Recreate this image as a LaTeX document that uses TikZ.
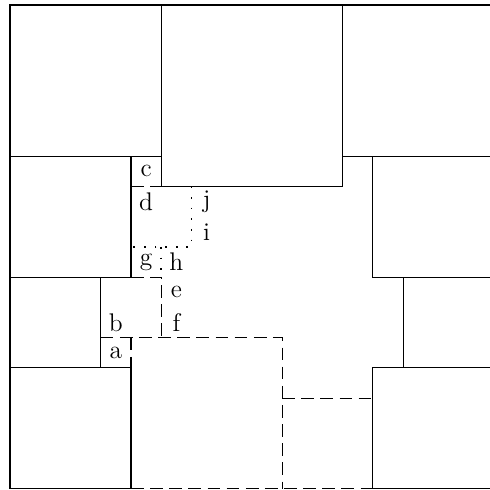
\documentclass[tikz,border=0pt]{standalone}
\tikzset{
  tile/.style={line width=0.5pt, draw=black},
  cutline/.style={tile, dash pattern=on 6pt off 3pt},
  dotline/.style={tile, line width=0.8pt, dash pattern=on 0.8pt off 4.2pt},
  cellname/.style={font=\large, inner sep=0pt}
}
\begin{document}
\begin{tikzpicture}[x=0.05cm,y=0.05cm]
\clip (-3.3,-0.33) rectangle (158.7,161.65);
% big squares round the border
\draw[tile] (0,110) rectangle (50,160);
\draw[tile] (50,100) rectangle (110,160);
\draw[tile] (110,110) rectangle (160,160);
\draw[tile] (0,70) rectangle (40,110);
\draw[tile] (0,40) rectangle (30,70);
\draw[tile] (0,0) -- (40,0) -- (40,40) -- (0,40) -- cycle;
\draw[tile] (40,100) -- (40,110);
\draw[tile] (120,70) rectangle (160,110);
\draw[tile] (130,40) rectangle (160,70);
\draw[tile] (120,0) rectangle (160,40);
% cuts
\draw[cutline] (40,100) -- (50,100);
\draw[cutline] (40,70) -- (50,70) -- (50,50);
\draw[cutline] (30,50) -- (90,50) -- (90,0);
\draw[cutline] (40,50) -- (40,40);
\draw[cutline] (90,30) -- (120,30);
\draw[cutline] (40,0) -- (120,0);
\draw[dotline] (60,100) -- (60,80) -- (40,80);
\draw[dotline] (50,80) -- (50,70);
% names
\node[cellname] (c) at (45,105) {c};
\node[cellname] (d) at (45,95) {d};
\node[cellname] (j) at (65,95) {j};
\node[cellname] (i) at (65,85) {i};
\node[cellname] (g) at (45,75) {g};
\node[cellname] (h) at (55,75) {h};
\node[cellname] (e) at (55,65) {e};
\node[cellname] (f) at (55,55) {f};
\node[cellname] (b) at (35,55) {b};
\node[cellname] (a) at (35,45) {a};
\end{tikzpicture}
\end{document}
